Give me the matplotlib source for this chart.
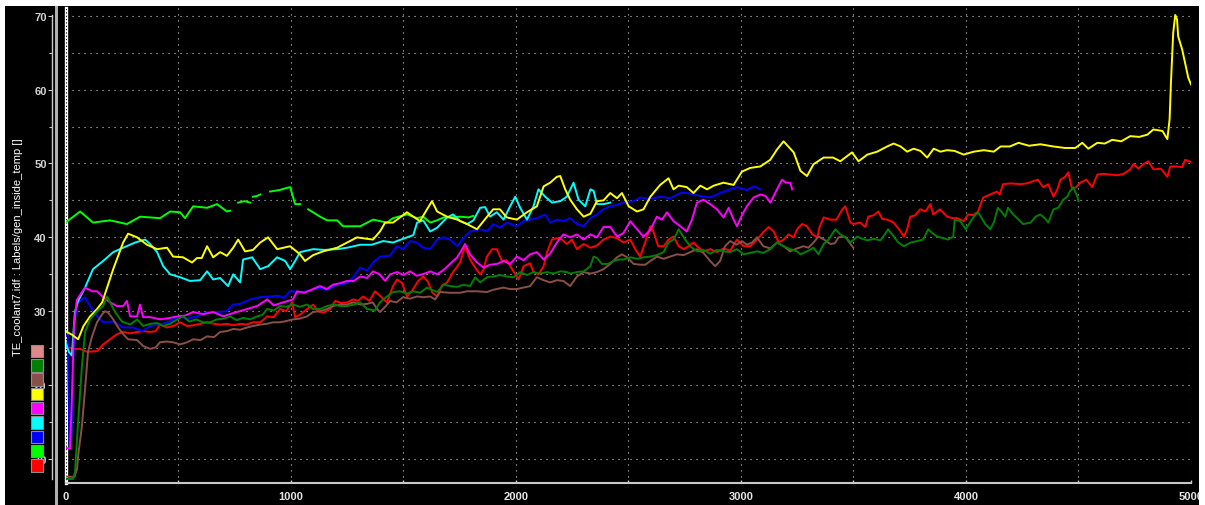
import numpy as np
import matplotlib.pyplot as plt
from matplotlib.patches import Rectangle
from matplotlib.ticker import MultipleLocator

plt.rcParams['font.family'] = ['Liberation Sans', 'DejaVu Sans']

W, H = 1205, 506
nan = np.nan

ylabel_text = 'TE_coolant7.idf : Labels/gen_inside_temp []'
legend_colors = ['#e08888', '#008000', '#8a5048', '#ffff00', '#ff00ff',
                 '#00ffff', '#0000ff', '#00ff00', '#ff0000']

# (x, y) samples, one list per channel
red = [(0, 25.3), (33, 24.9), (65, 24.9), (96, 24.5), (140, 24.6), (167, 25.5), (198, 26.2), (229, 26.9),
       (256, 27.2), (287, 27.0), (318, 27.2), (345, 27.3), (376, 27.2), (400, 27.3), (420, 28.2), (450, 27.8),
       (478, 28.0), (509, 28.5), (540, 28.0), (567, 28.1), (600, 28.3), (629, 28.5), (660, 28.3), (687, 28.2),
       (716, 28.3), (745, 28.1), (776, 28.3), (805, 28.2), (833, 28.5), (865, 28.5), (896, 29.3), (925, 29.2),
       (953, 30.3), (980, 30.0), (1007, 31.2), (1020, 29.2), (1045, 29.6), (1073, 30.3), (1100, 30.9),
       (1122, 30.0), (1144, 29.8), (1176, 30.3), (1198, 31.4), (1225, 31.1), (1251, 31.2), (1278, 31.6),
       (1300, 31.4), (1322, 32.0), (1350, 31.4), (1375, 32.7), (1400, 32.0), (1428, 31.2), (1455, 33.4),
       (1473, 34.3), (1495, 33.8), (1517, 32.0), (1540, 32.8), (1567, 34.1), (1589, 34.7), (1610, 34.0),
       (1630, 32.5), (1651, 32.0), (1673, 33.5), (1695, 33.9), (1722, 35.3), (1753, 36.6), (1775, 38.8),
       (1797, 37.0), (1820, 35.9), (1842, 35.0), (1857, 35.6), (1872, 37.4), (1895, 38.4), (1916, 38.4),
       (1939, 36.8), (1960, 36.9), (1990, 35.4), (2013, 34.3), (2035, 36.1), (2064, 36.5), (2079, 35.3),
       (2101, 35.0), (2124, 36.1), (2139, 38.0), (2161, 39.7), (2183, 39.9), (2205, 39.7), (2227, 39.1),
       (2250, 39.7), (2272, 38.4), (2302, 39.1), (2332, 38.6), (2361, 38.9), (2390, 39.7), (2420, 40.1),
       (2450, 39.9), (2479, 39.3), (2509, 39.7), (2531, 38.4), (2553, 37.4), (2575, 39.3), (2598, 41.5),
       (2612, 40.8), (2633, 38.8), (2657, 38.8), (2679, 39.7), (2701, 40.1), (2724, 38.8), (2746, 38.4),
       (2768, 38.8), (2790, 39.3), (2805, 38.8), (2834, 38.1), (2864, 38.4), (2894, 38.0), (2923, 38.5),
       (2953, 38.2), (2983, 39.7), (3012, 38.8), (3042, 38.8), (3072, 39.7), (3100, 40.7), (3124, 41.4),
       (3146, 40.8), (3168, 39.3), (3190, 39.7), (3212, 40.4), (3235, 40.0), (3250, 41.1), (3272, 41.8),
       (3294, 41.5), (3318, 40.4), (3340, 40.0), (3350, 41.4), (3368, 42.7), (3398, 42.4), (3425, 42.4),
       (3451, 43.8), (3464, 44.2), (3487, 42.0), (3500, 41.8), (3530, 42.0), (3553, 41.4), (3566, 42.8),
       (3590, 43.0), (3611, 43.5), (3628, 42.5), (3650, 42.4), (3679, 42.0), (3710, 40.8), (3724, 40.1),
       (3738, 41.0), (3753, 42.8), (3775, 43.0), (3797, 43.8), (3820, 43.5), (3842, 44.5), (3855, 43.1),
       (3885, 43.8), (3916, 42.8), (3940, 42.6), (3961, 42.6), (3990, 42.2), (4010, 43.1), (4032, 43.0),
       (4054, 43.5), (4077, 45.4), (4108, 45.8), (4138, 46.2), (4150, 45.8), (4165, 47.2), (4200, 47.3),
       (4240, 47.2), (4270, 47.3), (4298, 47.6), (4320, 47.8), (4343, 46.8), (4366, 47.2), (4389, 45.5),
       (4405, 46.4), (4420, 47.8), (4441, 48.2), (4455, 48.8), (4472, 46.5), (4490, 46.8), (4508, 47.4),
       (4535, 47.8), (4561, 46.8), (4584, 48.5), (4610, 48.6), (4640, 48.5), (4673, 48.4), (4700, 48.6),
       (4730, 49.2), (4744, 49.9), (4766, 49.3), (4788, 49.9), (4810, 50.3), (4833, 49.2), (4866, 49.3),
       (4895, 48.2), (4908, 49.6), (4935, 49.6), (4961, 49.5), (4974, 50.5), (4990, 50.3), (5000, 50.2)]

lime = [(0, 42.0), (65, 43.5), (122, 42.0), (198, 42.3), (273, 41.8), (331, 42.8), (420, 42.6), (465, 43.5),
        (509, 43.4), (531, 42.6), (567, 44.2), (629, 44.0), (673, 44.5), (717, 43.5), (731, 43.6), (750, nan),
        (767, 44.7), (795, 44.9), (820, 44.7), (827, nan), (833, 45.5), (850, 45.6), (865, 45.8), (885, nan),
        (909, 46.2), (950, 46.4), (984, 46.7), (998, 46.8), (1020, 44.5), (1042, 44.5), (1060, nan),
        (1078, 43.8), (1131, 42.8), (1162, 42.3), (1207, 42.3), (1233, 41.5), (1309, 41.5), (1366, 42.4),
        (1428, 42.0), (1455, 42.6), (1517, 43.1), (1562, 42.6), (1589, 42.8), (1620, 42.0), (1650, 42.3),
        (1680, 42.7), (1708, 42.7), (1753, 42.8), (1790, 42.7), (1812, 42.9)]

blue = [(0, 27.3), (10, 26.5), (18, 12.0), (26, 13.0), (38, 28.0), (50, 31.0), (65, 31.4), (87, 31.9),
        (109, 30.7), (140, 29.3), (167, 28.5), (212, 28.6), (256, 27.8), (300, 27.8), (340, 27.3), (376, 28.0),
        (420, 28.2), (465, 28.6), (500, 29.3), (540, 29.0), (584, 29.3), (629, 29.9), (673, 29.9), (717, 30.0),
        (745, 30.9), (776, 31.0), (820, 31.6), (865, 31.9), (909, 32.0), (945, 32.1), (970, 31.8), (998, 32.7),
        (1040, 32.6), (1073, 32.7), (1118, 33.2), (1160, 32.9), (1207, 33.6), (1251, 33.8), (1278, 34.6),
        (1309, 35.9), (1340, 35.5), (1366, 36.6), (1397, 37.4), (1440, 37.5), (1473, 38.8), (1500, 38.4),
        (1531, 39.5), (1560, 39.3), (1589, 38.6), (1620, 38.4), (1651, 39.7), (1680, 40.0), (1708, 39.7),
        (1740, 38.8), (1770, 40.0), (1797, 40.8), (1842, 41.1), (1872, 40.8), (1900, 41.8), (1930, 41.3),
        (1960, 42.0), (2005, 41.5), (2035, 42.2), (2064, 42.4), (2094, 42.6), (2131, 43.1), (2153, 42.0),
        (2183, 42.4), (2212, 42.2), (2242, 42.6), (2272, 41.8), (2302, 41.5), (2332, 42.6), (2361, 43.1),
        (2390, 43.8), (2420, 44.2), (2450, 44.4), (2479, 44.7), (2524, 44.9), (2553, 45.4), (2598, 45.2),
        (2642, 45.5), (2686, 45.3), (2731, 46.0), (2760, 46.0), (2790, 45.8), (2820, 45.6), (2864, 45.4),
        (2908, 46.0), (2953, 46.5), (2983, 46.8), (3027, 46.4), (3057, 46.9), (3087, 46.5)]

cyan = [(0, 25.8), (15, 24.5), (28, 24.0), (42, 29.9), (56, 31.4), (87, 33.2), (122, 35.7), (167, 36.8),
        (212, 38.0), (256, 38.6), (309, 39.3), (353, 39.7), (376, 39.1), (407, 38.0), (434, 36.1), (465, 35.0),
        (509, 34.6), (553, 34.1), (598, 34.2), (629, 35.4), (656, 34.3), (687, 34.5), (722, 33.4), (745, 35.0),
        (776, 33.9), (789, 37.0), (829, 37.3), (865, 35.7), (900, 36.1), (940, 37.3), (976, 36.8), (998, 35.7),
        (1020, 36.8), (1042, 38.0), (1100, 38.4), (1150, 38.3), (1207, 38.4), (1251, 38.6), (1309, 39.0),
        (1360, 39.0), (1411, 39.5), (1455, 39.3), (1517, 40.0), (1545, 40.3), (1562, 42.0), (1589, 42.3),
        (1620, 40.8), (1651, 41.3), (1695, 42.7), (1722, 43.1), (1753, 42.2), (1784, 41.8), (1812, 42.3),
        (1842, 44.0), (1864, 44.1), (1886, 42.8), (1916, 43.4), (1946, 42.4), (1975, 44.2), (1998, 45.5),
        (2020, 44.0), (2050, 42.4), (2079, 44.2), (2101, 46.5), (2131, 45.5), (2161, 44.7), (2198, 44.9),
        (2227, 45.5), (2257, 47.4), (2279, 45.1), (2309, 44.2), (2332, 46.5), (2346, 46.3), (2361, 44.5),
        (2390, 44.5), (2420, 44.7)]

magenta = [(0, 11.5), (20, 11.4), (28, 18.0), (38, 28.0), (50, 31.5), (73, 32.6), (87, 33.2), (118, 32.7),
           (140, 32.7), (167, 31.9), (198, 31.2), (229, 30.7), (256, 30.7), (273, 31.4), (287, 29.3),
           (318, 29.3), (331, 30.9), (345, 29.2), (376, 29.2), (420, 28.9), (465, 29.1), (496, 29.3),
           (530, 29.4), (567, 29.9), (611, 29.6), (656, 29.9), (700, 29.3), (750, 29.8), (807, 30.3),
           (851, 30.7), (896, 31.6), (925, 30.8), (967, 31.2), (1010, 31.6), (1029, 32.7), (1060, 32.5),
           (1100, 33.0), (1131, 33.4), (1160, 33.0), (1189, 33.6), (1220, 33.8), (1251, 34.1), (1280, 34.1),
           (1309, 34.7), (1340, 34.5), (1366, 35.4), (1395, 35.0), (1420, 34.1), (1442, 35.0), (1473, 35.3),
           (1500, 34.9), (1531, 35.4), (1560, 34.8), (1606, 35.2), (1620, 35.4), (1651, 35.0), (1680, 35.6),
           (1708, 36.4), (1740, 37.3), (1762, 38.4), (1775, 39.1), (1797, 37.7), (1828, 36.6), (1857, 35.9),
           (1886, 36.3), (1916, 36.4), (1946, 36.8), (1975, 36.4), (2005, 37.4), (2035, 36.9), (2064, 37.7),
           (2094, 38.0), (2124, 37.0), (2153, 37.8), (2183, 39.3), (2212, 40.4), (2242, 40.0), (2272, 40.4),
           (2302, 39.7), (2332, 40.4), (2361, 40.0), (2390, 41.4), (2420, 41.4), (2450, 40.1), (2479, 40.6),
           (2509, 42.2), (2539, 41.1), (2568, 40.1), (2598, 41.0), (2627, 42.8), (2650, 42.4), (2672, 43.4),
           (2701, 42.2), (2731, 41.5), (2760, 40.8), (2783, 42.4), (2805, 44.7), (2834, 45.1), (2864, 44.5),
           (2894, 43.8), (2923, 42.7), (2946, 44.0), (2968, 42.4), (2983, 41.5), (3005, 43.0), (3027, 44.2),
           (3057, 45.4), (3087, 45.8), (3110, 45.6), (3131, 44.7), (3161, 46.5), (3183, 47.8), (3200, 47.4),
           (3220, 47.4), (3228, 46.5)]

yellow = [(0, 27.3), (30, 26.8), (56, 26.2), (80, 28.0), (109, 29.3), (140, 30.3), (163, 31.2), (212, 35.7),
          (256, 39.3), (278, 40.5), (318, 40.0), (362, 39.0), (407, 38.4), (451, 38.6), (478, 37.4),
          (522, 37.3), (562, 36.6), (584, 37.2), (605, 37.2), (629, 38.8), (656, 37.3), (687, 38.0),
          (717, 37.5), (745, 38.6), (767, 39.7), (798, 38.1), (833, 38.3), (865, 39.3), (900, 40.0),
          (940, 38.4), (998, 38.8), (1042, 37.7), (1064, 36.8), (1100, 37.6), (1144, 38.1), (1207, 38.6),
          (1264, 39.5), (1295, 40.0), (1340, 39.8), (1366, 39.7), (1397, 40.8), (1420, 42.0), (1455, 42.0),
          (1517, 43.4), (1545, 42.8), (1575, 42.2), (1606, 43.8), (1628, 44.9), (1651, 43.5), (1695, 42.8),
          (1740, 42.4), (1784, 41.8), (1828, 41.1), (1857, 42.2), (1900, 43.8), (1930, 43.8), (1960, 42.7),
          (2005, 42.4), (2050, 43.4), (2094, 44.2), (2124, 46.9), (2153, 47.4), (2183, 48.2), (2198, 48.3),
          (2220, 46.5), (2242, 45.1), (2272, 43.8), (2302, 42.8), (2332, 43.2), (2361, 44.9), (2390, 45.0),
          (2420, 46.0), (2450, 45.3), (2472, 46.0), (2502, 44.2), (2539, 43.5), (2568, 43.8), (2598, 45.5),
          (2642, 47.1), (2679, 48.0), (2701, 46.5), (2724, 47.0), (2760, 46.8), (2790, 46.0), (2820, 47.0),
          (2850, 46.5), (2880, 47.0), (2923, 47.4), (2968, 47.1), (3005, 48.9), (3042, 49.4), (3087, 49.6),
          (3131, 50.5), (3161, 51.9), (3190, 53.0), (3235, 51.5), (3265, 49.0), (3294, 48.3), (3323, 49.9),
          (3368, 50.8), (3410, 50.8), (3442, 50.3), (3494, 51.5), (3523, 50.3), (3562, 51.2), (3606, 51.6),
          (3650, 52.3), (3679, 52.7), (3710, 52.3), (3739, 51.6), (3768, 52.0), (3798, 51.7), (3828, 50.8),
          (3857, 52.0), (3887, 51.6), (3916, 51.8), (3950, 51.7), (3990, 51.2), (4035, 51.6), (4080, 51.8),
          (4124, 51.6), (4154, 52.3), (4195, 52.3), (4234, 52.8), (4280, 52.4), (4331, 52.6), (4389, 52.3),
          (4440, 52.1), (4486, 52.1), (4517, 52.8), (4544, 52.0), (4584, 52.8), (4617, 52.7), (4650, 53.2),
          (4690, 53.0), (4730, 53.7), (4770, 53.6), (4806, 53.9), (4833, 54.6), (4873, 54.4), (4895, 53.3),
          (4905, 56.0), (4911, 61.0), (4921, 67.7), (4930, 70.1), (4938, 69.5), (4943, 67.2), (4961, 65.4),
          (4974, 63.6), (4988, 61.6), (5000, 60.7)]

brown = [(0, 7.6), (40, 7.6), (51, 8.6), (56, 10.4), (73, 14.5), (87, 19.5), (100, 24.5), (118, 26.6),
         (140, 28.5), (163, 29.6), (176, 30.0), (190, 29.8), (212, 28.9), (234, 27.8), (256, 26.9), (278, 26.2),
         (318, 26.1), (345, 25.3), (376, 24.9), (400, 25.1), (420, 25.8), (450, 25.9), (478, 25.8), (509, 25.5),
         (540, 25.8), (567, 26.2), (600, 26.1), (629, 26.6), (660, 26.5), (687, 27.2), (716, 27.3), (745, 27.6),
         (776, 27.5), (807, 27.8), (833, 28.0), (865, 28.2), (896, 28.3), (922, 28.5), (953, 28.5), (984, 28.7),
         (1011, 28.9), (1040, 29.0), (1073, 29.3), (1100, 29.9), (1131, 30.0), (1162, 30.3), (1189, 30.7),
         (1220, 30.9), (1250, 30.9), (1278, 31.2), (1310, 30.9), (1340, 31.0), (1365, 31.2), (1384, 30.3),
         (1397, 29.9), (1420, 30.6), (1442, 31.4), (1470, 31.2), (1500, 31.9), (1530, 31.7), (1562, 32.0),
         (1590, 31.9), (1620, 32.0), (1642, 31.6), (1664, 32.6), (1708, 32.5), (1753, 32.5), (1784, 32.7),
         (1828, 32.7), (1872, 32.6), (1900, 32.9), (1946, 33.2), (1975, 33.0), (2005, 33.0), (2035, 33.2),
         (2064, 33.4), (2094, 34.6), (2124, 34.2), (2153, 33.9), (2183, 34.2), (2212, 34.1), (2242, 33.4),
         (2272, 34.7), (2302, 35.3), (2332, 35.1), (2361, 35.3), (2390, 35.7), (2420, 36.4), (2450, 37.3),
         (2472, 37.7), (2495, 37.3), (2524, 36.4), (2553, 36.3), (2576, 36.3), (2598, 36.8), (2627, 37.4),
         (2657, 37.1), (2686, 37.4), (2716, 37.7), (2746, 37.6), (2775, 38.0), (2805, 38.4), (2834, 37.9),
         (2864, 36.8), (2886, 36.1), (2908, 36.8), (2930, 38.8), (2953, 39.5), (2980, 39.0), (3005, 39.5),
         (3027, 39.0), (3050, 39.3), (3072, 40.0), (3100, 38.8), (3131, 38.5), (3161, 39.3), (3190, 38.8),
         (3220, 38.1), (3250, 38.5), (3279, 38.8), (3300, 38.6), (3323, 39.3), (3345, 40.1), (3370, 39.7),
         (3398, 39.1), (3418, 39.2), (3434, 40.0), (3464, 40.1), (3487, 39.1), (3500, 38.6)]

darkgreen = [(0, 7.3), (33, 7.3), (42, 8.2), (56, 15.0), (73, 22.6), (87, 27.2), (109, 28.9), (140, 30.0),
             (167, 30.7), (185, 32.0), (198, 31.2), (220, 29.9), (251, 28.6), (287, 28.2), (318, 28.9),
             (345, 28.0), (376, 28.3), (407, 28.4), (434, 28.0), (465, 28.3), (496, 28.9), (522, 29.3),
             (550, 28.6), (580, 28.9), (611, 28.5), (642, 28.5), (673, 28.9), (705, 29.0), (731, 29.3),
             (760, 28.8), (789, 29.1), (820, 28.9), (851, 29.3), (875, 29.5), (896, 30.3), (925, 30.1),
             (953, 30.7), (980, 30.6), (1011, 30.9), (1040, 30.6), (1073, 30.9), (1100, 30.3), (1131, 30.3),
             (1162, 30.7), (1189, 30.9), (1220, 30.7), (1251, 30.7), (1280, 30.9), (1309, 31.2), (1340, 30.3),
             (1375, 30.1), (1397, 31.2), (1428, 32.0), (1455, 32.6), (1486, 32.7), (1517, 32.4), (1545, 32.7),
             (1575, 32.5), (1606, 33.2), (1620, 33.0), (1651, 32.6), (1680, 33.6), (1708, 33.4), (1740, 33.3),
             (1768, 33.6), (1797, 33.4), (1820, 34.6), (1842, 33.9), (1872, 34.6), (1900, 34.7), (1930, 34.9),
             (1960, 34.7), (1990, 34.6), (2020, 35.3), (2050, 34.9), (2079, 35.3), (2109, 35.1), (2139, 35.3),
             (2168, 35.1), (2198, 35.4), (2227, 35.3), (2242, 35.1), (2272, 35.3), (2302, 35.4), (2332, 36.1),
             (2346, 37.4), (2361, 37.2), (2383, 36.4), (2409, 36.4), (2435, 36.8), (2457, 37.0), (2480, 37.0),
             (2509, 37.3), (2539, 37.1), (2568, 37.3), (2598, 37.4), (2627, 37.6), (2657, 38.0), (2679, 39.3),
             (2701, 39.7), (2724, 41.1), (2738, 40.4), (2753, 39.7), (2775, 38.8), (2805, 38.1), (2834, 38.3),
             (2864, 37.8), (2894, 38.3), (2923, 38.1), (2953, 38.0), (2983, 38.4), (3012, 37.7), (3042, 37.9),
             (3072, 38.1), (3100, 37.9), (3131, 38.4), (3161, 39.3), (3190, 38.8), (3220, 38.4), (3250, 38.1),
             (3265, 37.7), (3294, 38.1), (3323, 38.6), (3345, 37.7), (3368, 39.1), (3390, 39.7), (3420, 41.1),
             (3442, 40.4), (3464, 40.0), (3487, 39.3), (3516, 40.1), (3540, 39.8), (3562, 39.6), (3590, 39.8),
             (3620, 39.6), (3640, 40.4), (3654, 41.1), (3677, 40.2), (3700, 39.3), (3724, 38.8), (3754, 39.3),
             (3784, 39.5), (3810, 39.7), (3833, 41.1), (3850, 40.6), (3872, 40.1), (3900, 39.9), (3920, 39.7),
             (3944, 40.1), (3950, 42.4), (3975, 42.2), (3988, 41.6), (4000, 41.1), (4018, 42.0), (4035, 42.8),
             (4054, 43.4), (4070, 42.6), (4086, 41.8), (4108, 41.1), (4124, 42.0), (4142, 44.0), (4160, 43.4),
             (4175, 42.8), (4187, 44.0), (4210, 43.1), (4234, 42.4), (4254, 41.8), (4287, 42.0), (4310, 42.8),
             (4330, 43.1), (4350, 42.6), (4366, 42.0), (4389, 43.8), (4410, 44.0), (4432, 45.1), (4450, 45.5),
             (4461, 46.2), (4477, 46.8), (4495, 45.5), (4500, 44.9)]

series = [(red, '#ff0000'), (lime, '#00ff00'), (blue, '#0000ff'), (cyan, '#00ffff'),
          (magenta, '#ff00ff'), (yellow, '#ffff00'), (brown, '#8a5048'), (darkgreen, '#008000')]


def box(x0, y0, x1, y1, **kw):
    # rectangle given in pixel coords measured from top-left
    return Rectangle((x0 / W, 1 - y1 / H), (x1 - x0) / W, (y1 - y0) / H,
                     transform=fig.transFigure, **kw)


fig = plt.figure(figsize=(W / 100, H / 100), dpi=100, facecolor='white')
fig.add_artist(box(5, 7, 1199, 506, facecolor='black', edgecolor='none', zorder=-10))
fig.add_artist(box(55, 7, 58.5, 506, facecolor='#b0b0b0', edgecolor='none', zorder=-5))

ax = fig.add_axes([65.5 / W, 22 / H, (1191 - 65.5) / W, (484 - 8.6) / H])
ax.set_facecolor('black')

for pts, c in series:
    arr = np.array(pts, dtype=float)
    ax.plot(arr[:, 0], arr[:, 1], color=c, lw=1.4, zorder=3)

ax.axvline(0, color='white', lw=2.4, zorder=2, clip_on=False)
ax.axvline(0, color='black', lw=0.8, ls=(0, (1, 2)), zorder=2.1, clip_on=False)

ax.set_xlim(0, 5000)
ax.set_ylim(6.75, 71.1)
ax.xaxis.set_major_locator(MultipleLocator(1000))
ax.xaxis.set_minor_locator(MultipleLocator(500))
ax.yaxis.set_major_locator(MultipleLocator(10))
ax.yaxis.set_minor_locator(MultipleLocator(5))

ax.grid(True, which='both', color='#c8c8c8', lw=0.8, ls=(0, (1, 4.4)))
ax.set_axisbelow(True)

for s in ['top', 'right']:
    ax.spines[s].set_visible(False)
ax.spines['left'].set_position(('outward', 9.7))
ax.spines['left'].set_bounds(7.3, 70.1)
ax.spines['left'].set_color('#c8c8c8')
ax.spines['left'].set_linewidth(1)
ax.spines['bottom'].set_color('#c8c8c8')
ax.spines['bottom'].set_linewidth(1.5)

ax.tick_params(axis='x', which='both', direction='in', length=2.2, width=1,
               color='#c8c8c8', labelcolor='#e6e6e6', labelsize=8, pad=6)
ax.tick_params(axis='y', which='major', direction='out', length=2.9, width=0.8,
               color='#c8c8c8', labelcolor='#d4d4d4', labelsize=8, pad=1)
ax.tick_params(axis='y', which='minor', direction='out', length=2.2, width=0.8,
               color='#c8c8c8')
for lab in ax.get_xticklabels() + ax.get_yticklabels():
    lab.set_fontweight('bold')

fig.text(18.5 / W, 1 - 247.5 / H, ylabel_text, rotation=90, ha='center', va='center',
         color='white', fontsize=8)

# colour boxes of the channel list
for i, c in enumerate(legend_colors):
    top = 345.7 + i * 14.3
    fig.add_artist(box(30.7, top, 43.3, top + 12.5, facecolor=c, edgecolor='#8c8c8c',
                       lw=0.8, zorder=5))

# white frame on the right cuts the last tick label like the original
fig.add_artist(box(1199, 0, 1205, 506, facecolor='white', edgecolor='none', zorder=6))

fig.savefig('out.png', dpi=100, facecolor='white')
